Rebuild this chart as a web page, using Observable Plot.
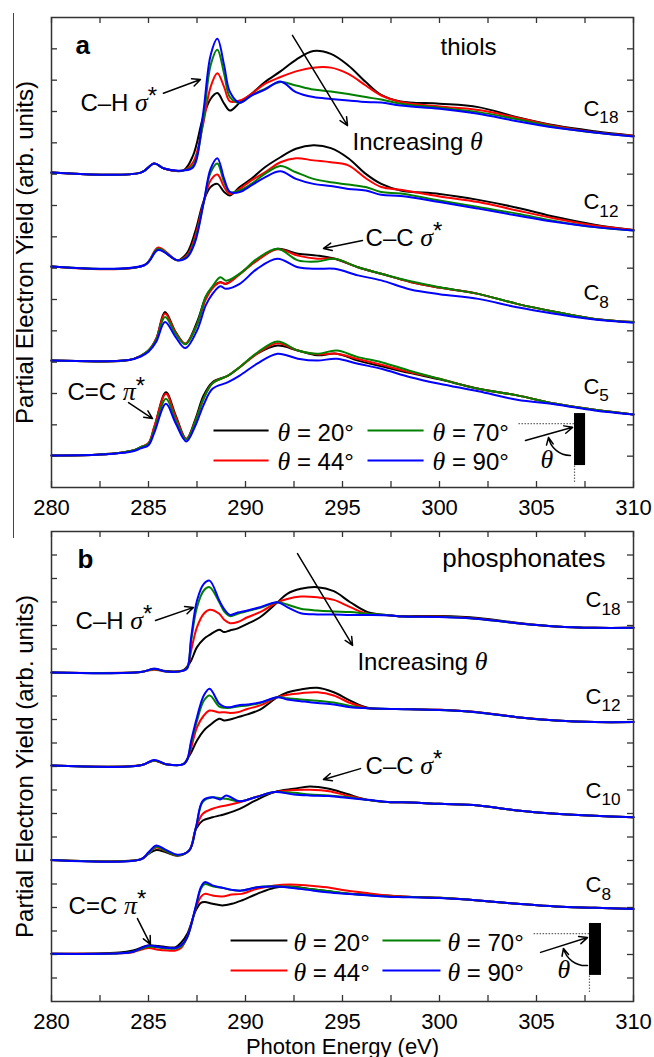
<!DOCTYPE html>
<html><head><meta charset="utf-8">
<script src="https://cdn.jsdelivr.net/npm/d3@7"></script>
<script src="https://cdn.jsdelivr.net/npm/@observablehq/plot@0.6"></script>
<style>
body{margin:0;background:#fff;}
#wrap{position:relative;width:654px;height:1057px;overflow:hidden;background:#fff;}
#wrap svg{display:block;}
#edge{position:absolute;left:13px;top:13px;height:525px;border-left:1.5px solid #444;}
text{white-space:pre;}
</style></head><body><div id="wrap"><div id="edge"></div></div>
<script>
// ---------- axes ----------
const xMinorTicks = [280, 282.5, 285, 287.5, 290, 292.5, 295, 297.5, 300, 302.5, 305, 307.5, 310];
const xTickLabels = [280, 285, 290, 295, 300, 305, 310];
const yTicksA = [1,2,3,4,5,6,7,8,9,10,11,12,13,14];
const yTicksB = [1,2,3,4,5,6,7,8,9,10,11,12,13,14,15,16,17,18,19];
const angles = ["20", "44", "70", "90"];
const angleColors = ["#000000", "#ff0000", "#008000", "#0000ff"];

// ---------- panel a : thiols ----------
const energyT18 = [280, 284.6, 285.3, 285.8, 286.8, 287.3, 287.8, 288.2, 288.55, 288.9, 289.2, 289.7, 290.3, 291.0, 291.8, 292.6, 293.5, 294.4, 295.3, 296.2, 297.0, 298.0, 300, 302, 304, 306, 308, 310];
const t18_20 = [10.05, 10.05, 10.34, 10.18, 10.12, 10.6, 11.78, 12.4, 12.59, 12.25, 12.03, 12.28, 12.56, 12.94, 13.28, 13.65, 13.93, 13.84, 13.47, 12.94, 12.53, 12.32, 12.25, 12.14, 11.82, 11.55, 11.37, 11.23];
const t18_44 = [10.05, 10.05, 10.34, 10.18, 10.12, 10.38, 11.55, 12.78, 13.22, 12.78, 12.32, 12.35, 12.56, 12.88, 13.1, 13.28, 13.4, 13.4, 13.2, 12.83, 12.51, 12.3, 12.16, 12.05, 11.8, 11.53, 11.34, 11.23];
const t18_70 = [10.05, 10.05, 10.34, 10.18, 10.12, 10.28, 11.6, 13.47, 13.97, 13.2, 12.46, 12.28, 12.51, 12.72, 12.94, 12.83, 12.7, 12.64, 12.56, 12.46, 12.38, 12.25, 12.12, 11.98, 11.75, 11.5, 11.33, 11.21];
const t18_90 = [10.05, 10.05, 10.34, 10.18, 10.12, 10.22, 11.87, 13.79, 14.32, 13.47, 12.62, 12.28, 12.51, 12.7, 12.96, 12.62, 12.46, 12.4, 12.35, 12.3, 12.29, 12.19, 12.09, 11.93, 11.69, 11.48, 11.33, 11.2];

const energyT12 = [280, 284.8, 285.5, 286.5, 287.0, 287.4, 287.85, 288.2, 288.55, 288.9, 289.2, 289.7, 290.3, 291.0, 291.8, 292.6, 293.5, 294.4, 295.3, 296.2, 297.0, 298.0, 300, 302, 304, 306, 308, 310];
const t12_20 = [7.05, 7.1, 7.6, 7.25, 7.5, 8.15, 9.16, 9.59, 9.69, 9.43, 9.32, 9.59, 9.85, 10.22, 10.54, 10.81, 10.92, 10.83, 10.51, 10.01, 9.69, 9.48, 9.37, 9.18, 8.93, 8.63, 8.39, 8.22];
const t12_44 = [7.05, 7.1, 7.66, 7.25, 7.42, 8.0, 9.13, 9.8, 9.99, 9.59, 9.37, 9.53, 9.8, 10.06, 10.38, 10.51, 10.44, 10.38, 10.28, 9.87, 9.59, 9.5, 9.29, 9.11, 8.84, 8.58, 8.36, 8.22];
const t12_70 = [7.05, 7.1, 7.62, 7.25, 7.38, 7.9, 9.1, 10.05, 10.34, 9.74, 9.43, 9.48, 9.69, 10.01, 10.26, 10.06, 9.85, 9.74, 9.67, 9.59, 9.43, 9.38, 9.16, 8.95, 8.74, 8.5, 8.31, 8.2];
const t12_90 = [7.05, 7.1, 7.58, 7.25, 7.35, 7.83, 9.11, 10.17, 10.51, 9.85, 9.43, 9.43, 9.64, 9.9, 10.09, 9.85, 9.69, 9.62, 9.53, 9.48, 9.34, 9.3, 9.11, 8.9, 8.68, 8.47, 8.31, 8.2];

const energyT8 = [280, 284.0, 284.6, 285.0, 285.4, 285.85, 286.4, 286.9, 287.5, 287.95, 288.3, 288.7, 289.0, 289.7, 290.6, 291.65, 292.7, 293.7, 294.6, 295.8, 297.0, 298.5, 300, 302, 304, 306, 308, 310];
const t8_20 = [4.05, 4.07, 4.2, 4.37, 4.75, 5.6, 4.96, 4.59, 5.28, 6.07, 6.39, 6.55, 6.5, 6.82, 7.25, 7.62, 7.46, 7.4, 7.3, 7.03, 6.82, 6.56, 6.38, 6.18, 5.86, 5.6, 5.38, 5.28];
const t8_44 = [4.05, 4.07, 4.2, 4.37, 4.75, 5.55, 4.94, 4.59, 5.2, 6.0, 6.36, 6.55, 6.5, 6.8, 7.25, 7.6, 7.4, 7.3, 7.3, 7.03, 6.82, 6.56, 6.38, 6.18, 5.86, 5.6, 5.38, 5.28];
const t8_70 = [4.05, 4.07, 4.2, 4.37, 4.72, 5.44, 4.9, 4.57, 5.2, 6.1, 6.42, 6.71, 6.6, 6.82, 7.3, 7.62, 7.25, 7.21, 7.3, 7.03, 6.82, 6.58, 6.39, 6.18, 5.86, 5.6, 5.38, 5.28];
const t8_90 = [4.05, 4.07, 4.18, 4.33, 4.65, 5.28, 4.8, 4.45, 5.01, 5.81, 6.18, 6.42, 6.34, 6.5, 6.98, 7.3, 7.03, 6.98, 6.98, 6.77, 6.61, 6.32, 6.17, 6.02, 5.75, 5.54, 5.36, 5.26];

const energyT5 = [280, 282.5, 284.2, 284.6, 285.0, 285.3, 285.9, 286.4, 286.95, 287.4, 287.85, 288.3, 289.1, 289.7, 290.6, 291.65, 292.7, 293.7, 294.7, 295.8, 297.0, 298.5, 300, 302, 304, 306, 308, 310];
const t5_20 = [1.02, 1.05, 1.18, 1.29, 1.4, 1.92, 3.04, 2.3, 1.55, 2.15, 2.95, 3.36, 3.57, 3.84, 4.27, 4.53, 4.37, 4.22, 4.27, 4.05, 3.87, 3.65, 3.45, 3.15, 2.94, 2.67, 2.48, 2.33];
const t5_44 = [1.02, 1.05, 1.18, 1.29, 1.42, 1.95, 2.99, 2.25, 1.55, 2.1, 2.85, 3.33, 3.57, 3.84, 4.27, 4.6, 4.37, 4.25, 4.27, 4.1, 3.92, 3.68, 3.47, 3.15, 2.94, 2.67, 2.48, 2.33];
const t5_70 = [1.02, 1.05, 1.18, 1.29, 1.4, 1.85, 2.83, 2.15, 1.53, 2.08, 2.85, 3.33, 3.57, 3.84, 4.3, 4.66, 4.37, 4.27, 4.37, 4.16, 4.0, 3.72, 3.47, 3.15, 2.94, 2.67, 2.48, 2.33];
const t5_90 = [1.02, 1.05, 1.16, 1.25, 1.35, 1.75, 2.67, 2.05, 1.47, 1.95, 2.65, 3.15, 3.36, 3.57, 3.95, 4.27, 4.11, 4.05, 4.11, 3.95, 3.79, 3.52, 3.31, 3.07, 2.8, 2.65, 2.46, 2.33];

// ---------- panel b : phosphonates ----------
const energyP18 = [280, 284.6, 285.3, 285.9, 286.8, 287.0, 287.2, 287.5, 287.85, 288.15, 288.65, 288.9, 289.2, 289.6, 290.1, 290.75, 291.65, 292.15, 292.85, 293.7, 294.55, 295.4, 296.3, 297.5, 298.1, 300, 302, 304, 306, 308, 310];
const p18_20 = [14.0, 14.02, 14.16, 14.06, 14.1, 14.26, 14.51, 15.08, 15.43, 15.6, 15.82, 15.72, 15.79, 15.88, 16.07, 16.35, 16.99, 17.35, 17.56, 17.63, 17.46, 16.99, 16.57, 16.43, 16.4, 16.4, 16.32, 16.12, 15.96, 15.9, 15.9];
const p18_44 = [14.0, 14.02, 14.12, 14.04, 14.08, 14.2, 14.94, 15.93, 16.5, 16.67, 16.5, 16.24, 16.1, 16.15, 16.35, 16.57, 16.99, 17.13, 17.23, 17.2, 17.09, 16.78, 16.5, 16.43, 16.38, 16.38, 16.29, 16.1, 15.96, 15.9, 15.9];
const p18_70 = [14.0, 14.02, 14.14, 14.04, 14.08, 14.2, 15.36, 16.78, 17.49, 17.63, 16.99, 16.6, 16.4, 16.5, 16.62, 16.75, 16.99, 16.89, 16.71, 16.64, 16.6, 16.57, 16.5, 16.43, 16.38, 16.37, 16.28, 16.1, 15.96, 15.9, 15.9];
const p18_90 = [14.0, 14.02, 14.16, 14.04, 14.08, 14.18, 15.5, 17.06, 17.77, 17.91, 17.06, 16.7, 16.45, 16.55, 16.64, 16.78, 16.99, 16.78, 16.52, 16.47, 16.47, 16.45, 16.45, 16.43, 16.38, 16.36, 16.28, 16.1, 15.96, 15.9, 15.9];

const energyP12 = [280, 284.6, 285.3, 285.9, 286.8, 287.0, 287.2, 287.5, 287.85, 288.15, 288.65, 288.9, 289.2, 289.6, 290.1, 290.75, 291.65, 292.15, 292.85, 293.7, 294.55, 295.4, 296.3, 297.5, 298.1, 300, 302, 304, 306, 308, 310];
const p12_20 = [10.04, 10.05, 10.26, 10.1, 10.1, 10.33, 10.6, 11.11, 11.53, 11.75, 12.03, 11.96, 12.0, 12.1, 12.22, 12.42, 12.95, 13.15, 13.28, 13.35, 13.16, 12.8, 12.5, 12.45, 12.45, 12.41, 12.31, 12.1, 11.96, 11.89, 11.89];
const p12_44 = [10.04, 10.05, 10.24, 10.1, 10.1, 10.3, 10.8, 11.67, 12.17, 12.38, 12.3, 12.31, 12.28, 12.31, 12.45, 12.6, 12.95, 13.05, 13.12, 13.16, 13.02, 12.7, 12.48, 12.45, 12.45, 12.41, 12.31, 12.1, 11.96, 11.89, 11.89];
const p12_70 = [10.04, 10.05, 10.26, 10.1, 10.1, 10.3, 11.0, 11.95, 12.8, 13.02, 12.55, 12.5, 12.5, 12.55, 12.6, 12.7, 12.95, 12.9, 12.85, 12.8, 12.72, 12.58, 12.48, 12.45, 12.44, 12.4, 12.3, 12.1, 11.96, 11.89, 11.89];
const p12_90 = [10.04, 10.05, 10.28, 10.1, 10.1, 10.3, 11.1, 12.1, 13.02, 13.31, 12.67, 12.55, 12.52, 12.6, 12.64, 12.72, 12.95, 12.85, 12.78, 12.7, 12.64, 12.52, 12.48, 12.45, 12.44, 12.4, 12.3, 12.1, 11.96, 11.89, 11.89];

const energyP10 = [280, 284.6, 285.0, 285.4, 285.9, 286.5, 287.1, 287.45, 287.8, 288.3, 288.7, 289.0, 289.7, 290.5, 291.5, 292.5, 293.3, 294.3, 295.2, 296.3, 297.5, 298.1, 300, 302, 304, 306, 308, 310];
const p10_20 = [6.02, 6.05, 6.28, 6.45, 6.35, 6.2, 6.43, 7.35, 7.7, 7.84, 7.92, 7.99, 8.2, 8.55, 8.91, 9.05, 9.15, 9.05, 8.84, 8.58, 8.48, 8.48, 8.41, 8.34, 8.13, 7.99, 7.9, 7.84];
const p10_44 = [6.02, 6.05, 6.3, 6.55, 6.4, 6.22, 6.43, 7.4, 7.99, 8.2, 8.3, 8.34, 8.48, 8.69, 8.91, 9.0, 9.01, 8.95, 8.77, 8.58, 8.48, 8.48, 8.41, 8.34, 8.13, 7.99, 7.9, 7.84];
const p10_70 = [6.02, 6.05, 6.3, 6.58, 6.4, 6.22, 6.43, 7.42, 8.5, 8.69, 8.65, 8.63, 8.52, 8.69, 8.91, 8.88, 8.81, 8.77, 8.7, 8.58, 8.48, 8.48, 8.41, 8.34, 8.13, 7.99, 7.9, 7.84];
const p10_90 = [6.02, 6.05, 6.35, 6.64, 6.45, 6.25, 6.43, 7.42, 8.55, 8.69, 8.6, 8.77, 8.52, 8.69, 8.91, 8.81, 8.77, 8.74, 8.67, 8.58, 8.48, 8.48, 8.41, 8.34, 8.13, 7.99, 7.9, 7.84];

const energyP8 = [280, 283.5, 284.2, 285.0, 285.5, 286.0, 286.4, 286.7, 287.0, 287.45, 287.7, 287.9, 288.3, 288.8, 289.3, 289.8, 290.6, 291.5, 292.3, 293.2, 294.2, 295.2, 296.4, 297.5, 298.1, 300, 302, 304, 306, 308, 310];
const p8_20 = [2.03, 2.08, 2.17, 2.38, 2.36, 2.31, 2.31, 2.52, 2.88, 3.9, 4.2, 4.23, 4.16, 4.09, 4.16, 4.3, 4.58, 4.84, 4.89, 4.8, 4.7, 4.6, 4.55, 4.5, 4.47, 4.41, 4.3, 4.16, 4.04, 3.99, 3.94];
const p8_44 = [2.03, 2.05, 2.1, 2.28, 2.2, 2.17, 2.17, 2.3, 2.75, 4.0, 4.45, 4.58, 4.51, 4.47, 4.55, 4.58, 4.8, 4.94, 4.98, 4.94, 4.86, 4.72, 4.6, 4.5, 4.47, 4.41, 4.3, 4.16, 4.04, 3.99, 3.94];
const p8_70 = [2.03, 2.05, 2.12, 2.33, 2.3, 2.25, 2.25, 2.35, 2.74, 4.05, 4.8, 5.0, 4.9, 4.84, 4.75, 4.72, 4.86, 4.9, 4.88, 4.8, 4.7, 4.6, 4.52, 4.46, 4.45, 4.41, 4.3, 4.16, 4.04, 3.99, 3.94];
const p8_90 = [2.03, 2.05, 2.12, 2.38, 2.33, 2.28, 2.28, 2.4, 2.74, 4.1, 4.86, 5.08, 4.94, 4.84, 4.75, 4.72, 4.86, 4.89, 4.84, 4.75, 4.65, 4.58, 4.51, 4.45, 4.44, 4.4, 4.3, 4.16, 4.04, 3.99, 3.94];

// ---------- labels / annotations (data coordinates) ----------
const curveLabelsA = [{E: 307.42, I: 11.87, t: "C_{18}"}, {E: 307.42, I: 8.9, t: "C_{12}"}, {E: 307.42, I: 5.97, t: "C_{8}"}, {E: 307.42, I: 3.0, t: "C_{5}"}];
const curveLabelsB = [{E: 307.53, I: 16.77, t: "C_{18}"}, {E: 307.53, I: 12.68, t: "C_{12}"}, {E: 307.53, I: 8.68, t: "C_{10}"}, {E: 307.53, I: 4.64, t: "C_{8}"}];
const notesA = [
  {E: 281.49, I: 12.03, t: "C–H $σ$^{*}"}, {E: 295.52, I: 10.76, t: "Increasing $θ$"},
  {E: 296.19, I: 7.72, t: "C–C $σ$^{*}"}, {E: 280.82, I: 2.78, t: "C=C $π$^{*}"},
  {E: 291.65, I: 1.5, t: "$θ$ = 20°"}, {E: 291.65, I: 0.57, t: "$θ$ = 44°"},
  {E: 299.64, I: 1.5, t: "$θ$ = 70°"}, {E: 299.64, I: 0.57, t: "$θ$ = 90°"},
  {E: 305.21, I: 0.61, t: "$θ$"}];
const notesB = [
  {E: 281.24, I: 15.87, t: "C–H $σ$^{*}"}, {E: 295.77, I: 14.09, t: "Increasing $θ$"},
  {E: 296.19, I: 9.7, t: "C–C $σ$^{*}"}, {E: 280.88, I: 3.74, t: "C=C $π$^{*}"},
  {E: 292.47, I: 2.17, t: "$θ$ = 20°"}, {E: 292.47, I: 0.89, t: "$θ$ = 44°"},
  {E: 300.41, I: 2.17, t: "$θ$ = 70°"}, {E: 300.41, I: 0.89, t: "$θ$ = 90°"},
  {E: 306.08, I: 0.98, t: "$θ$"}];
const legendA = [{x1: 288.35, x2: 291.19, y: 1.82, angle: "20"}, {x1: 288.35, x2: 291.19, y: 0.86, angle: "44"}, {x1: 296.29, x2: 299.18, y: 1.82, angle: "70"}, {x1: 296.29, x2: 299.18, y: 0.86, angle: "90"}];
const legendB = [{x1: 289.23, x2: 292.16, y: 2.6, angle: "20"}, {x1: 289.23, x2: 292.16, y: 1.32, angle: "44"}, {x1: 297.06, x2: 300.05, y: 2.6, angle: "70"}, {x1: 297.06, x2: 300.05, y: 1.32, angle: "90"}];
const arrowsA = [{x1: 285.77, y1: 12.58, x2: 287.68, y2: 13.02}, {x1: 292.42, y1: 14.43, x2: 295.26, y2: 11.55}, {x1: 296.03, y1: 7.88, x2: 294.02, y2: 7.63}, {x1: 283.97, y1: 2.71, x2: 285.21, y2: 2.2}, {x1: 304.43, y1: 1.5, x2: 306.86, y2: 1.92}];
const arrowsB = [{x1: 285.36, y1: 16.21, x2: 287.32, y2: 16.77}, {x1: 292.68, y1: 19.06, x2: 295.52, y2: 15.15}, {x1: 295.93, y1: 9.91, x2: 294.02, y2: 9.45}, {x1: 284.43, y1: 3.53, x2: 285.1, y2: 2.43}, {x1: 305.21, y1: 2.09, x2: 307.63, y2: 2.72}];
const bentA = [{x1: 306.75, y1: 1.02, x2: 305.62, y2: 1.6}];
const bentB = [{x1: 307.63, y1: 1.53, x2: 306.39, y2: 2.26}];
const sampleA = [{x1: 306.96, x2: 307.53, y1: 0.70, y2: 2.36}];
const sampleB = [{x1: 307.73, x2: 308.35, y1: 1.11, y2: 3.32}];
const dottedA = [{x1: 304.07, y1: 2.04, x2: 306.96, y2: 2.04}, {x1: 306.96, y1: 0.70, x2: 306.96, y2: 0.16}];
const dottedB = [{x1: 304.85, y1: 2.89, x2: 307.73, y2: 2.89}, {x1: 307.73, y1: 1.11, x2: 307.73, y2: 0.38}];

// ---------- build tables ----------
function series(molecule, energy, byAngle) {
  return angles.map((a, k) => energy.map((e, j) => ({E: e, I: byAngle[k][j], angle: a, key: molecule + "-" + a})));
}
function stack(list) { // draw all 20° first, 90° last
  const out = [];
  for (let k = 0; k < angles.length; k++) list.forEach(s => out.push(...s[k]));
  return out;
}
const rowsA = stack([
  series("C18", energyT18, [t18_20, t18_44, t18_70, t18_90]),
  series("C12", energyT12, [t12_20, t12_44, t12_70, t12_90]),
  series("C8", energyT8, [t8_20, t8_44, t8_70, t8_90]),
  series("C5", energyT5, [t5_20, t5_44, t5_70, t5_90])]);
const rowsB = stack([
  series("C18", energyP18, [p18_20, p18_44, p18_70, p18_90]),
  series("C12", energyP12, [p12_20, p12_44, p12_70, p12_90]),
  series("C10", energyP10, [p10_20, p10_44, p10_70, p10_90]),
  series("C8", energyP8, [p8_20, p8_44, p8_70, p8_90])]);

const FONT = '"Liberation Sans", Arial, Helvetica, sans-serif';
const FRAME = "#333";

function panel(o) {
  const fh = 470, fwid = 582;
  const marks = [
    Plot.tickX(xMinorTicks, {x: d => d, insetTop: fh - 6, stroke: FRAME, strokeWidth: 1.3}),
    Plot.tickX(xMinorTicks, {x: d => d, insetBottom: fh - 6, stroke: FRAME, strokeWidth: 1.3}),
    Plot.tickY(o.yTicks, {y: d => d, insetRight: fwid - 6, stroke: FRAME, strokeWidth: 1.3}),
    Plot.tickY(o.yTicks, {y: d => d, insetLeft: fwid - 6, stroke: FRAME, strokeWidth: 1.3}),
    Plot.axisX(xTickLabels, {tickSize: 0, tickPadding: 12, fontSize: 22, label: null}),
    Plot.line(o.rows, {x: "E", y: "I", z: "key", stroke: "angle", strokeWidth: 2, curve: "catmull-rom"}),
    Plot.link(o.legend, {x1: "x1", x2: "x2", y1: "y", y2: "y", stroke: "angle", strokeWidth: 2}),
    Plot.link(o.dotted, {x1: "x1", y1: "y1", x2: "x2", y2: "y2", stroke: "#666", strokeWidth: 1.2, strokeDasharray: "1.5,1.5"}),
    Plot.rect(o.sample, {x1: "x1", x2: "x2", y1: "y1", y2: "y2", fill: "black"}),
    Plot.arrow(o.arrows, {x1: "x1", y1: "y1", x2: "x2", y2: "y2", stroke: "black", strokeWidth: 1.5, headLength: 9, headAngle: 50}),
    Plot.arrow(o.bent, {x1: "x1", y1: "y1", x2: "x2", y2: "y2", stroke: "black", strokeWidth: 1.5, headLength: 8, headAngle: 50, bend: 40}),
    Plot.text(o.curveLabels, {x: "E", y: "I", text: "t", textAnchor: "start", lineAnchor: "bottom", fontSize: 22, fill: "black"}),
    Plot.text(o.notes, {x: "E", y: "I", text: "t", textAnchor: "start", lineAnchor: "bottom", fontSize: 24, fill: "black"}),
    Plot.text([o.letter], {x: "E", y: "I", text: "t", textAnchor: "start", lineAnchor: "bottom", fontSize: 26, fontWeight: "bold", fill: "black"}),
    Plot.text([o.title], {x: "E", y: "I", text: "t", textAnchor: o.title.anchor, lineAnchor: "bottom", fontSize: o.title.size, fill: "black"}),
    Plot.text(["Partial Electron Yield (arb. units)"], {frameAnchor: "left", rotate: -90, dx: -19, textAnchor: "middle", lineAnchor: "bottom", fontSize: 24, fill: "black"}),
    Plot.frame({stroke: FRAME, strokeWidth: 1.5})
  ];
  if (o.xTitle) marks.push(Plot.text([o.xTitle], {frameAnchor: "bottom", dy: 52, lineAnchor: "bottom", fontSize: 22, fill: "black"}));
  return Plot.plot({
    width: 654, height: o.height,
    marginLeft: 51, marginRight: 21, marginTop: o.marginTop, marginBottom: o.marginBottom,
    style: {fontFamily: FONT, background: "white", color: "black", overflow: "visible"},
    x: {domain: [280, 310]},
    y: {domain: [0, o.yMax], axis: null},
    color: {domain: angles, range: angleColors},
    marks
  });
}

const svgA = panel({height: 530, marginTop: 17, marginBottom: 43, yMax: 15, yTicks: yTicksA, rows: rowsA,
  legend: legendA, dotted: dottedA, sample: sampleA, arrows: arrowsA, bent: bentA,
  curveLabels: curveLabelsA, notes: notesA,
  letter: {E: 281.24, I: 13.85, t: "a"}, title: {E: 300.05, I: 13.79, t: "thiols", anchor: "start", size: 24}});
const svgB = panel({height: 527, marginTop: 1, marginBottom: 56, yMax: 20, yTicks: yTicksB, rows: rowsB,
  legend: legendB, dotted: dottedB, sample: sampleB, arrows: arrowsB, bent: bentB,
  curveLabels: curveLabelsB, notes: notesB,
  letter: {E: 281.34, I: 18.43, t: "b"}, title: {E: 308.56, I: 18.47, t: "phosphonates", anchor: "end", size: 26},
  xTitle: "Photon Energy (eV)"});

const wrap = document.getElementById("wrap");
wrap.appendChild(svgA);
wrap.appendChild(svgB);

// ---------- rich text: $italic$, _{sub}, ^{sup} ----------
const NS = "http://www.w3.org/2000/svg";
function richify(svg) {
  svg.querySelectorAll("text").forEach(t => {
    const s = t.textContent;
    if (!(/\$|_\{|\^\{/.test(s))) return;
    const fs = parseFloat(getComputedStyle(t).fontSize) || 22;
    const segs = [];
    let italic = false, cur = "", i = 0;
    const push = (text, mode) => { if (text) segs.push({text, mode, italic}); };
    while (i < s.length) {
      const c = s[i];
      if (c === "$") { push(cur, "n"); cur = ""; italic = !italic; i++; }
      else if ((c === "_" || c === "^") && s[i + 1] === "{") {
        push(cur, "n"); cur = "";
        const j = s.indexOf("}", i);
        push(s.slice(i + 2, j), c === "_" ? "sub" : "sup");
        i = j + 1;
      } else { cur += c; i++; }
    }
    push(cur, "n");
    while (t.firstChild) t.removeChild(t.firstChild);
    let shift = 0;
    segs.forEach(sg => {
      const ts = document.createElementNS(NS, "tspan");
      const want = sg.mode === "sub" ? 0.36 * fs : sg.mode === "sup" ? -0.28 * fs : 0;
      if (want !== shift) { ts.setAttribute("dy", (want - shift).toFixed(2)); shift = want; }
      if (sg.mode === "sub") ts.setAttribute("font-size", (0.78 * fs).toFixed(1));
      if (sg.italic) {
        ts.setAttribute("font-family", '"Liberation Serif", "Times New Roman", serif');
        ts.setAttribute("font-style", "italic");
        ts.setAttribute("font-size", (1.08 * fs).toFixed(1));
      }
      ts.textContent = sg.text;
      t.appendChild(ts);
    });
  });
}
richify(svgA);
richify(svgB);
</script></body></html>
